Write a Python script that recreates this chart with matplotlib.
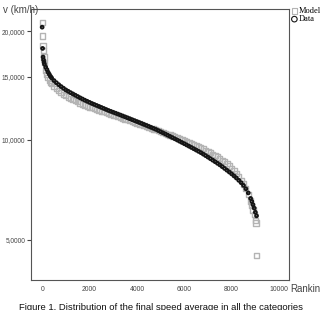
import numpy as np
import matplotlib.pyplot as plt

# rank of each point and the two series
data_rank = [0, 20, 40, 60, 80, 100, 150, 200, 250, 300, 350, 400, 500, 600, 700, 800, 900,
             1000, 1100, 1200, 1300, 1400, 1500, 1600, 1700, 1800, 1900,
             2000, 2100, 2200, 2300, 2400, 2500, 2600, 2700, 2800, 2900,
             3000, 3100, 3200, 3300, 3400, 3500, 3600, 3700, 3800, 3900,
             4000, 4100, 4200, 4300, 4400, 4500, 4600, 4700, 4800, 4900,
             5000, 5100, 5200, 5300, 5400, 5500, 5600, 5700, 5800, 5900,
             6000, 6100, 6200, 6300, 6400, 6500, 6600, 6700, 6800, 6900,
             7000, 7100, 7200, 7300, 7400, 7500, 7600, 7700, 7800, 7900,
             8000, 8100, 8200, 8300, 8400, 8500, 8600, 8700, 8800, 8850, 8900, 8950, 9000, 9050]
data_v = [20.5, 17.95, 17.0, 16.7, 16.45, 16.25, 15.95, 15.7, 15.45, 15.25, 15.05, 14.9, 14.65, 14.45, 14.27, 14.1, 13.95,
          13.8, 13.68, 13.56, 13.45, 13.34, 13.23, 13.12, 13.02, 12.92, 12.83,
          12.74, 12.65, 12.57, 12.49, 12.41, 12.33, 12.25, 12.17, 12.09, 12.02,
          11.95, 11.88, 11.81, 11.74, 11.67, 11.6, 11.53, 11.46, 11.39, 11.32,
          11.25, 11.18, 11.11, 11.04, 10.97, 10.9, 10.83, 10.76, 10.69, 10.61,
          10.53, 10.45, 10.37, 10.29, 10.21, 10.13, 10.05, 9.97, 9.89, 9.81,
          9.73, 9.65, 9.57, 9.49, 9.41, 9.33, 9.25, 9.17, 9.08, 8.99,
          8.9, 8.81, 8.72, 8.63, 8.54, 8.45, 8.35, 8.25, 8.15, 8.05,
          7.95, 7.84, 7.73, 7.61, 7.49, 7.35, 7.18, 6.98, 6.72, 6.58, 6.43, 6.28, 6.1, 5.95]

model_rank = [0, 20, 40, 60, 80, 100, 150, 200, 250, 300, 350, 400, 500, 600, 700, 800, 900,
              1000, 1100, 1200, 1300, 1400, 1500, 1600, 1700, 1800, 1900,
              2000, 2100, 2200, 2300, 2400, 2500, 2600, 2700, 2800, 2900,
              3000, 3100, 3200, 3300, 3400, 3500, 3600, 3700, 3800, 3900,
              4000, 4100, 4200, 4300, 4400, 4500, 4600, 4700, 4800, 4900,
              5000, 5100, 5200, 5300, 5400, 5500, 5600, 5700, 5800, 5900,
              6000, 6100, 6200, 6300, 6400, 6500, 6600, 6700, 6800, 6900,
              7000, 7100, 7200, 7300, 7400, 7500, 7600, 7700, 7800, 7900,
              8000, 8100, 8200, 8300, 8400, 8500, 8600, 8700, 8800, 8850, 8900, 8950, 9000, 9030, 9060]
model_v = [21.1, 19.4, 18.3, 17.75, 17.0, 16.4, 15.6, 15.2, 14.9, 14.7, 14.5, 14.35, 14.1, 13.9, 13.72, 13.57, 13.43,
           13.3, 13.18, 13.07, 12.97, 12.87, 12.78, 12.69, 12.6, 12.52, 12.44,
           12.37, 12.3, 12.23, 12.16, 12.1, 12.04, 11.98, 11.92, 11.86, 11.8,
           11.74, 11.68, 11.62, 11.56, 11.5, 11.44, 11.38, 11.32, 11.26, 11.2,
           11.14, 11.08, 11.02, 10.96, 10.9, 10.84, 10.78, 10.72, 10.66, 10.6,
           10.54, 10.48, 10.42, 10.36, 10.3, 10.24, 10.18, 10.12, 10.06, 10.0,
           9.94, 9.88, 9.82, 9.75, 9.68, 9.61, 9.54, 9.47, 9.4, 9.32,
           9.24, 9.16, 9.08, 9.0, 8.91, 8.82, 8.72, 8.62, 8.51, 8.39,
           8.26, 8.12, 7.97, 7.8, 7.62, 7.42, 7.18, 6.9, 6.6, 6.4, 6.2, 6.0, 5.75, 5.65, 4.45]

yticks = [5, 10, 15, 20]
ytick_labels = ['5,0000', '10,0000', '15,0000', '20,0000']
xticks = [0, 2000, 4000, 6000, 8000, 10000]

plt.rcParams['font.family'] = ['Liberation Sans', 'DejaVu Sans']

fig = plt.figure(figsize=(3.22, 3.10), dpi=100)
ax = fig.add_axes([31 / 322, 30 / 310, 258 / 322, 271 / 310])

ax.scatter(model_rank, model_v, marker='s', s=14, facecolors='none',
           edgecolors='#b4b4b4', linewidths=1.0, label='Model', zorder=2)
ax.scatter(data_rank, data_v, marker='o', s=4, facecolors='none',
           edgecolors='#151515', linewidths=1.4, label='Data', zorder=3)

ax.set_yscale('function', functions=(lambda v: np.log(v + 1.2), lambda u: np.exp(u) - 1.2))
ax.set_ylim(3.7, 22.95)
ax.set_xlim(-470, 10420)

ax.set_yticks(yticks)
ax.set_yticklabels(ytick_labels)
ax.yaxis.set_minor_locator(plt.NullLocator())
ax.set_xticks(xticks)
ax.tick_params(axis='y', labelsize=4.7, length=3, width=0.8, color='#444444', labelcolor='#444444', pad=1)
ax.tick_params(axis='x', labelsize=4.9, length=0, labelcolor='#444444', pad=4)
for s in ax.spines.values():
    s.set_color('#555555')
    s.set_linewidth(0.8)

fig.text(0.008, 0.985, 'v (km/h)', fontsize=7, color='#444444', va='top')
fig.text(290 / 322, 0.069, 'Rankin', fontsize=7, color='#444444', va='center')

leg = ax.legend(loc='upper left', bbox_to_anchor=(0.995, 1.02), frameon=False,
                prop={'family': 'Liberation Serif', 'size': 6}, handletextpad=0.1,
                labelspacing=0.05, borderaxespad=0, handlelength=0.8)
for h in leg.legend_handles:
    h.set_sizes([16])
    h.set_linewidths([0.8])

fig.text(0.5, 0.0, 'Figure 1. Distribution of the final speed average in all the categories',
         fontsize=6.8, ha='center', va='baseline', color='#111111')

fig.savefig('out.png', dpi=100)
